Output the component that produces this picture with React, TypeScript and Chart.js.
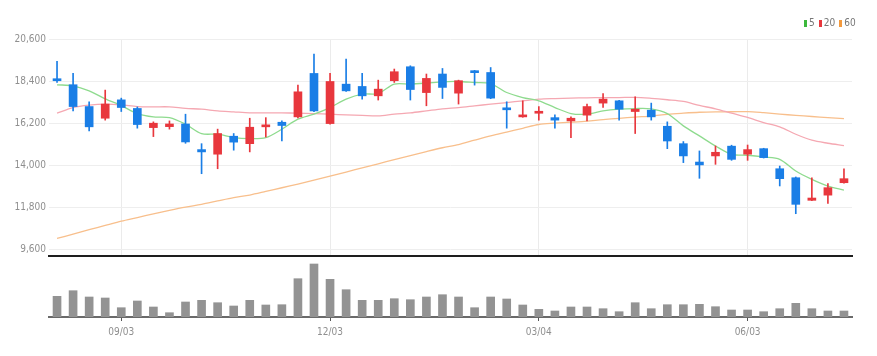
import React, { useEffect, useRef } from "react";
import { Chart, registerables } from "chart.js";

Chart.register(...registerables);

const DATES = [
  "08/06", "08/13", "08/20", "08/27", "09/03", "09/10", "09/17", "09/24", "10/01", "10/08",
  "10/15", "10/22", "10/29", "11/05", "11/12", "11/19", "11/26", "12/03", "12/10", "12/17",
  "12/24", "12/31", "01/07", "01/14", "01/21", "01/28", "02/04", "02/11", "02/18", "02/25",
  "03/04", "03/11", "03/18", "03/25", "04/01", "04/08", "04/15", "04/22", "04/29", "05/06",
  "05/13", "05/20", "05/27", "06/03", "06/10", "06/17", "06/24", "07/01", "07/08", "07/15",
];
const SHOWN_TICKS = ["09/03", "12/03", "03/04", "06/03"];
const Y_TICKS = [9600, 11800, 14000, 16200, 18400, 20600];

const OPEN = [
  18470, 18210, 17070, 16460, 17420, 16970, 15970, 16020, 16160, 14820,
  14580, 15520, 15130, 16010, 16250, 16530, 18800, 16180, 18240, 18120,
  17630, 18420, 19150, 17800, 18770, 17770, 18940, 18850, 16990, 16530,
  16720, 16490, 16320, 16620, 17250, 17370, 16810, 16880, 16040, 15130,
  14170, 14490, 15000, 14580, 14870, 13820, 13350, 12170, 12440, 13090,
];
const HIGH = [
  19430, 18800, 17320, 17930, 17510, 17050, 16270, 16320, 16670, 15130,
  15890, 15660, 16460, 16490, 16320, 18190, 19810, 18800, 19550, 18800,
  18450, 19030, 19200, 18770, 19060, 18450, 18960, 19110, 17320, 17370,
  17070, 16640, 16530, 17200, 17750, 17400, 17580, 17250, 16270, 15240,
  14750, 15010, 15050, 15060, 14890, 13960, 13390, 13350, 13040, 13820,
];
const LOW = [
  18330, 16840, 15800, 16360, 16810, 15940, 15500, 15890, 15150, 13560,
  13820, 14790, 14700, 15480, 15270, 16480, 16800, 16150, 17860, 17460,
  17410, 18330, 17410, 17110, 17490, 17200, 18190, 17480, 15940, 16510,
  16360, 15940, 15450, 16320, 17020, 16360, 15660, 16360, 14870, 14140,
  13320, 14050, 14260, 14260, 14380, 12920, 11470, 12150, 12010, 13070,
];
const CLOSE = [
  18420, 17070, 16010, 17200, 17020, 16130, 16200, 16160, 15220, 14700,
  15660, 15210, 15990, 16100, 16080, 17840, 16840, 18380, 17890, 17630,
  17980, 18890, 17960, 18540, 18070, 18420, 18840, 17510, 16900, 16620,
  16810, 16360, 16460, 17070, 17460, 16930, 16930, 16530, 15270, 14490,
  14020, 14680, 14310, 14820, 14400, 13300, 11960, 12290, 12830, 13300,
];
const MA5 = [
  18206, 18154, 17892, 17473, 17122, 16703, 16530, 16493, 16148, 15655,
  15624, 15446, 15393, 15446, 15886, 16410, 16672, 17017, 17457, 17719,
  17751, 18243, 18243, 18295, 18363, 18379, 18327, 18274, 17803, 17541,
  17368, 17017, 16703, 16672, 16844, 16933, 16965, 16949, 16703, 16059,
  15535, 15011, 14576, 14524, 14435, 14314, 13701, 13267, 12916, 12706,
];
const MA20 = [
  16724, 17017, 17143, 17195, 17158, 17070, 17054, 17054, 16975, 16933,
  16844, 16792, 16740, 16740, 16740, 16724, 16703, 16672, 16635, 16609,
  16583, 16672, 16740, 16844, 16949, 17017, 17106, 17195, 17279, 17368,
  17457, 17489, 17510, 17526, 17541, 17541, 17552, 17500, 17426, 17337,
  17127, 16952, 16723, 16498, 16236, 16010, 15623, 15309, 15152, 15032,
];
const MA60 = [
  10176, 10402, 10632, 10857, 11082, 11271, 11465, 11648, 11816, 11957,
  12135, 12308, 12444, 12633, 12827, 13021, 13230, 13440, 13649, 13864,
  14079, 14293, 14508, 14718, 14917, 15084, 15315, 15540, 15739, 15933,
  16132, 16200, 16252, 16310, 16389, 16452, 16520, 16572, 16666, 16724,
  16771, 16792, 16797, 16808, 16750, 16677, 16609, 16551, 16493, 16436,
];
const VOLUME = [
  2070, 2630, 2000, 1900, 930, 1600, 1000, 430, 1500, 1670,
  1430, 1100, 1670, 1200, 1230, 3830, 5300, 3770, 2730, 1670,
  1670, 1830, 1730, 2000, 2230, 2000, 930, 2000, 1800, 1200,
  770, 600, 1000, 1000, 830, 530, 1430, 830, 1230, 1230,
  1270, 1030, 700, 700, 530, 830, 1370, 830, 600, 600,
];

const UP = "#e8373d";
const DOWN = "#1a7ee6";
const FONT = "'Liberation Sans Narrow', 'Arial Narrow', 'DejaVu Sans Condensed', sans-serif";

const candleColors = OPEN.map((o, i) => (CLOSE[i] >= o ? UP : DOWN));
const gridFor = (color: string) => (ctx: any) =>
  ctx.tick && SHOWN_TICKS.includes(DATES[ctx.index]) ? color : "rgba(0,0,0,0)";

export default function App() {
  const priceRef = useRef<HTMLCanvasElement>(null);
  const volRef = useRef<HTMLCanvasElement>(null);

  useEffect(() => {
    const price = new Chart(priceRef.current!, {
      type: "bar",
      data: {
        labels: DATES,
        datasets: [
          {
            type: "bar",
            label: "wick",
            data: LOW.map((l, i) => [l, HIGH[i]]) as any,
            backgroundColor: candleColors,
            barThickness: 1,
            grouped: false,
            order: 1,
          },
          {
            type: "bar",
            label: "body",
            data: OPEN.map((o, i) => [o, CLOSE[i]]) as any,
            backgroundColor: candleColors,
            barThickness: 8,
            minBarLength: 2,
            grouped: false,
            order: 0,
          },
          {
            type: "line",
            label: "60",
            data: MA60,
            borderColor: "#f8bf8c",
            borderWidth: 1.3,
            pointRadius: 0,
            tension: 0.3,
            order: 4,
          },
          {
            type: "line",
            label: "20",
            data: MA20,
            borderColor: "#f5a8b2",
            borderWidth: 1.3,
            pointRadius: 0,
            tension: 0.3,
            order: 3,
          },
          {
            type: "line",
            label: "5",
            data: MA5,
            borderColor: "#8edb8e",
            borderWidth: 1.3,
            pointRadius: 0,
            tension: 0.3,
            order: 2,
          },
        ],
      },
      options: {
        responsive: false,
        maintainAspectRatio: false,
        animation: false,
        layout: { padding: { top: 39, right: 25, bottom: 4, left: 0 } },
        plugins: { legend: { display: false }, tooltip: { enabled: false } },
        scales: {
          x: {
            type: "category",
            offset: true,
            grid: { offset: false, color: gridFor("#ebebeb"), drawTicks: false, lineWidth: 1 },
            ticks: { display: false, autoSkip: false },
            border: { color: "#1e1e1e", width: 2 },
            afterFit: (s: any) => {
              s.height = 0;
            },
          },
          y: {
            min: 9260,
            max: 20600,
            grid: { color: "#eeeeee", drawTicks: false, lineWidth: 1 },
            border: { display: false },
            afterBuildTicks: (s: any) => {
              s.ticks = Y_TICKS.map((v) => ({ value: v }));
            },
            ticks: {
              padding: 3,
              color: "#8f8f8f",
              font: { family: FONT, size: 10 },
              callback: (v: any) => Number(v).toLocaleString("en-US"),
            },
            afterFit: (s: any) => {
              s.width = 49;
              s.paddingTop = 0;
              s.paddingBottom = 0;
            },
          },
        },
      },
    });

    const vol = new Chart(volRef.current!, {
      type: "bar",
      data: {
        labels: DATES,
        datasets: [
          {
            label: "volume",
            data: VOLUME,
            backgroundColor: "#939393",
            barThickness: 8,
          },
        ],
      },
      options: {
        responsive: false,
        maintainAspectRatio: false,
        animation: false,
        layout: { padding: { top: 4, right: 25, bottom: 0, left: 49 } },
        plugins: { legend: { display: false }, tooltip: { enabled: false } },
        scales: {
          x: {
            type: "category",
            offset: true,
            grid: { offset: false, drawOnChartArea: false, drawTicks: true, tickLength: 4, color: gridFor("#555555") },
            border: { color: "#6a6a6a", width: 2 },
            ticks: {
              autoSkip: false,
              maxRotation: 0,
              padding: 5,
              color: "#8f8f8f",
              font: { family: FONT, size: 10 },
              callback: (_v: any, i: number) => (SHOWN_TICKS.includes(DATES[i]) ? DATES[i] : ""),
            },
            afterFit: (s: any) => {
              s.height = 39;
            },
          },
          y: { display: false, min: 0, max: 5500 },
        },
      },
    });

    return () => {
      price.destroy();
      vol.destroy();
    };
  }, []);

  const legendItems = [
    { label: "5", color: "#3cb83c" },
    { label: "20", color: "#e8373d" },
    { label: "60", color: "#f39a3e" },
  ];

  return (
    <div style={{ position: "fixed", left: 0, top: 0, width: 877, height: 356, background: "#fff", overflow: "hidden" }}>
      <canvas ref={priceRef} width={877} height={260} style={{ position: "absolute", left: 0, top: 0, width: 877, height: 260 }} />
      <canvas ref={volRef} width={877} height={98} style={{ position: "absolute", left: 0, top: 258, width: 877, height: 98 }} />
      <div
        style={{
          position: "absolute",
          left: 804,
          top: 17,
          display: "flex",
          alignItems: "center",
          fontFamily: FONT,
          fontSize: 10,
          color: "#777",
          lineHeight: "12px",
        }}
      >
        {legendItems.map((it) => (
          <span key={it.label} style={{ display: "flex", alignItems: "center", marginRight: 4 }}>
            <span style={{ display: "inline-block", width: 3, height: 7, background: it.color, marginRight: 2 }} />
            {it.label}
          </span>
        ))}
      </div>
    </div>
  );
}
